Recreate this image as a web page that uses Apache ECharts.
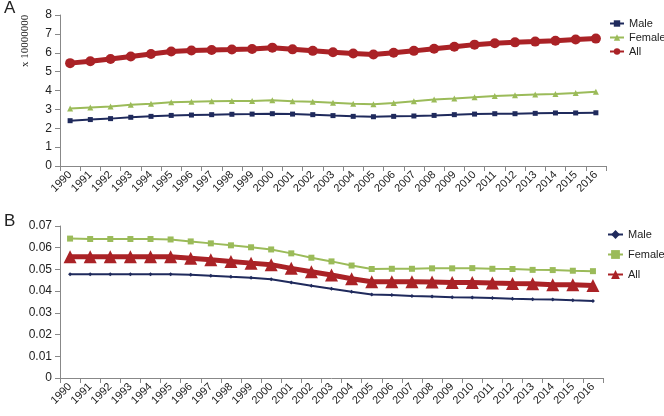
<!DOCTYPE html>
<html><head><meta charset="utf-8">
<script src="https://cdn.jsdelivr.net/npm/echarts@6/dist/echarts.min.js"></script>
<style>html,body{margin:0;padding:0;background:#fff}#c{width:664px;height:416px}</style>
</head><body><div id="c"></div>
<script>
const years = ['1990','1991','1992','1993','1994','1995','1996','1997','1998','1999','2000','2001','2002','2003','2004','2005','2006','2007','2008','2009','2010','2011','2012','2013','2014','2015','2016'];
// Panel A (x 10000000)
const maleA = [2.40,2.46,2.51,2.58,2.63,2.68,2.70,2.72,2.74,2.75,2.77,2.75,2.72,2.67,2.63,2.61,2.63,2.65,2.68,2.72,2.75,2.77,2.77,2.79,2.81,2.81,2.82];
const femaleA = [3.04,3.10,3.15,3.24,3.30,3.38,3.41,3.43,3.45,3.45,3.48,3.43,3.40,3.35,3.30,3.27,3.34,3.43,3.52,3.57,3.64,3.71,3.75,3.79,3.82,3.87,3.93];
const allA = [5.45,5.55,5.67,5.80,5.93,6.07,6.12,6.15,6.17,6.20,6.27,6.18,6.10,6.03,5.96,5.91,6.00,6.10,6.21,6.32,6.43,6.50,6.55,6.59,6.64,6.70,6.75];
// Panel B
const maleB = [0.0478,0.0478,0.0478,0.0478,0.0478,0.0478,0.0475,0.0471,0.0466,0.0462,0.0455,0.0440,0.0425,0.0411,0.0397,0.0385,0.0382,0.0378,0.0375,0.0372,0.0371,0.0368,0.0365,0.0363,0.0362,0.0358,0.0355];
const femaleB = [0.0642,0.0640,0.0640,0.0640,0.0640,0.0638,0.0629,0.0620,0.0611,0.0602,0.0592,0.0574,0.0554,0.0537,0.0518,0.0502,0.0503,0.0503,0.0505,0.0505,0.0506,0.0503,0.0502,0.0498,0.0497,0.0494,0.0492];
const allB = [0.0558,0.0558,0.0558,0.0558,0.0558,0.0558,0.0552,0.0545,0.0537,0.0529,0.0522,0.0505,0.0489,0.0474,0.0457,0.0443,0.0443,0.0443,0.0442,0.0440,0.0440,0.0437,0.0435,0.0434,0.0429,0.0429,0.0426];
const names = ['Male','Female','All'];
const yTicksA = {min:0, max:8, interval:1};
const yTicksB = {min:0, max:0.07, interval:0.01};

const cMale = '#1f2a5c', cFemale = '#9bbb59', cAll = '#aa2226';
const labelFont = {fontFamily:'Liberation Sans', fontSize:11, color:'#222'};
function xAx(gi){return {type:'category', gridIndex:gi, data:years, boundaryGap:true,
  axisLine:{show:true, lineStyle:{color:'#888'}}, axisTick:{show:true, length:5, lineStyle:{color:'#888'}},
  axisLabel:Object.assign({rotate:45, margin:7, interval:0}, labelFont), splitLine:{show:false}};}
function yAx(gi, t){return Object.assign({type:'value', gridIndex:gi,
  axisLine:{show:true, lineStyle:{color:'#888'}}, axisTick:{show:true, length:5, lineStyle:{color:'#888'}},
  axisLabel:Object.assign({margin:8}, labelFont, {fontSize:12}), splitLine:{show:false}}, t);}
function ser(name, gi, data, color, symbol, size, width){
  return {type:'line', name:name, xAxisIndex:gi, yAxisIndex:gi, data:data, symbol:symbol, symbolSize:size,
    showAllSymbol:true, lineStyle:{color:color, width:width}, itemStyle:{color:color, borderWidth:0}, emphasis:{disabled:true}, animation:false};}
const legText = {fontFamily:'Liberation Sans', fontSize:11, color:'#222', overflow:'none'};

const chart = echarts.init(document.getElementById('c'));
chart.setOption({
  animation:false,
  grid:[{left:60, right:58, top:15, height:151}, {left:60, right:61, top:226, height:152}],
  xAxis:[xAx(0), xAx(1)],
  yAxis:[yAx(0, yTicksA), yAx(1, yTicksB)],
  legend:[
    {orient:'vertical', left:609, top:18, padding:0, itemGap:3, itemWidth:14, itemHeight:8, data:['Male|A','Female|A','All|A'],
     formatter:n=>n.split('|')[0], textStyle:legText},
    {orient:'vertical', left:607, top:229, padding:0, itemGap:9, itemWidth:15, itemHeight:11, data:['Male|B','Female|B','All|B'],
     formatter:n=>n.split('|')[0], textStyle:legText}
  ],
  graphic:[
    {type:'text', left:4, top:0, style:{text:'A', font:'17px Liberation Sans', fill:'#222'}},
    {type:'text', left:4, top:213, style:{text:'B', font:'17px Liberation Sans', fill:'#222'}},
    {type:'text', x:20, y:67, rotation:Math.PI/2, style:{text:'x 10000000', font:'11px Liberation Serif', fill:'#222', verticalAlign:'top'}}
  ],
  series:[
    ser('Male|A',0,maleA,cMale,'rect',5,2),
    ser('Female|A',0,femaleA,cFemale,'triangle',6,2),
    ser('All|A',0,allA,cAll,'circle',10,5),
    ser('Male|B',1,maleB,cMale,'diamond',4,2),
    ser('Female|B',1,femaleB,cFemale,'rect',6,2),
    ser('All|B',1,allB,cAll,'triangle',13,5)
  ]
});
</script></body></html>
